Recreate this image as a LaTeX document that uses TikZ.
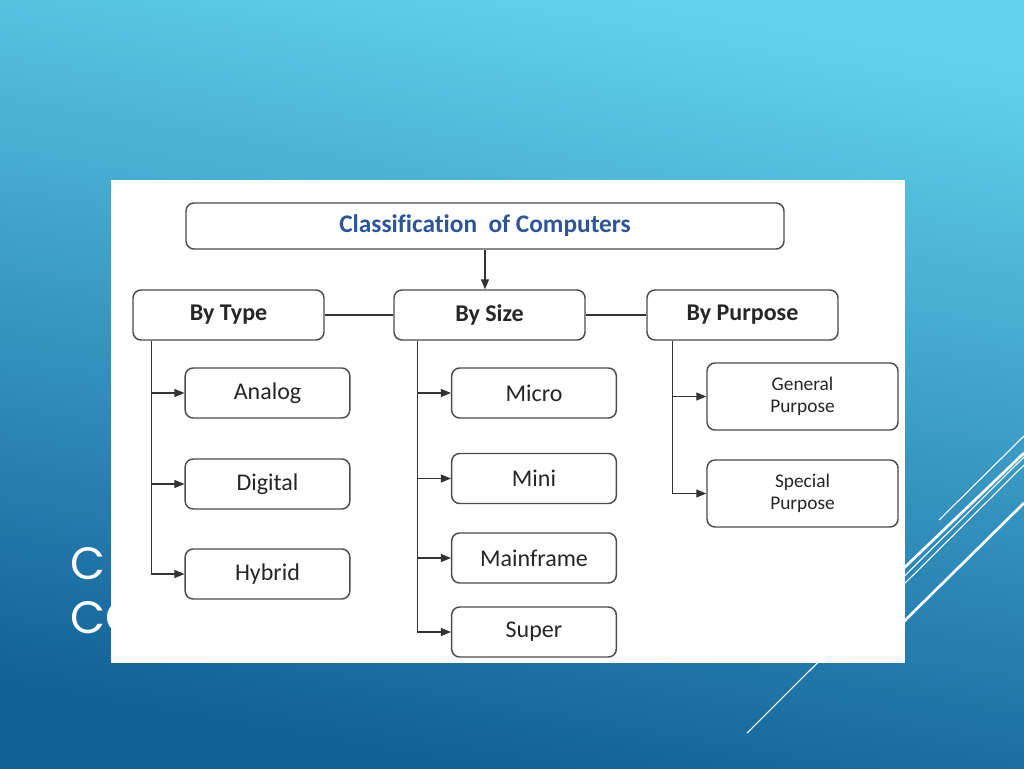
\documentclass[tikz,border=0pt]{standalone}
\usepackage{fontspec}
\setmainfont{Carlito}[Ligatures=NoCommon]
\newfontfamily\slidefont{Poppins}
\usetikzlibrary{arrows.meta}

\definecolor{bgtop}{RGB}{98,210,238}
\definecolor{bgmid}{RGB}{52,156,206}
\definecolor{bgbot}{RGB}{16,94,150}
\definecolor{titleblue}{RGB}{47,85,151}

\begin{document}
\begin{tikzpicture}[x=0.75pt, y=-0.75pt,
    box/.style={draw=black!70, line width=1.1pt, rounded corners=6pt, fill=white,
        inner sep=0pt, text=black!85, font=\fontsize{18}{21}\selectfont},
    headbox/.style={box, minimum width=143.25pt, minimum height=37.5pt,
        font=\fontsize{18}{21}\selectfont\bfseries},
    leafbox/.style={box, minimum width=123.5pt, minimum height=37.5pt},
    widebox/.style={box, minimum width=143.25pt, minimum height=50.25pt, align=center,
        font=\fontsize{14.5}{17}\selectfont},
    link/.style={draw=black!80, line width=0.9pt},
    >={Triangle[length=7.5pt,width=6pt]}]
        \useasboundingbox (0,0) rectangle (1024,768);

        % Slide background
        \shade[top color=bgtop, middle color=bgmid, bottom color=bgbot, shading angle=-10] (0,0) rectangle (1024,768);

        % Decorative stripes
        \draw[white, line width=0.8pt] (939,520) -- (1024,436);
        \draw[white, line width=0.8pt] (747,733) -- (1024,457);
        \draw[white, line width=2pt] (880,591) -- (1024,453);
        \draw[white, line width=0.8pt] (880,608) -- (1024,465);
        \draw[white, line width=2pt] (880,645) -- (1024,503);

        % Slide heading (mostly hidden by the panel)
        \node[anchor=base west, text=white, font=\slidefont\fontsize{34}{40}\selectfont, inner sep=0pt] (headone) at (70,579) {C};
        \node[anchor=base west, text=white, font=\slidefont\fontsize{34}{40}\selectfont, inner sep=0pt] (headtwo) at (70,633) {CO};

        % White panel
        \fill[white] (111,180) rectangle (905,663);

        % Top box
        \node[box, minimum width=448.5pt, minimum height=34.5pt, text=titleblue,
            font=\fontsize{19}{22}\selectfont\bfseries] (root) at (485,226) {Classification\ \ of Computers};

        % Second level
        \node[headbox] (type) at (228.5,315) {By Type};
        \node[headbox] (size) at (489.5,315) {By Size};
        \node[headbox] (purpose) at (742.5,315) {By Purpose};

        % By type
        \node[leafbox] (analog) at (267.5,393) {Analog};
        \node[leafbox] (digital) at (267.5,484) {Digital};
        \node[leafbox] (hybrid) at (267.5,574) {Hybrid};

        % By size
        \node[leafbox] (micro) at (534,393) {Micro};
        \node[leafbox] (mini) at (534,478.5) {Mini};
        \node[leafbox] (mainframe) at (534,558) {Mainframe};
        \node[leafbox] (super) at (534,632) {Super};

        % By purpose
        \node[widebox] (general) at (802.5,396.5) {General\\Purpose};
        \node[widebox] (special) at (802.5,493.5) {Special\\Purpose};

        % Trunks
        \coordinate (typetrunk) at ([xshift=14.25pt]type.south west);
        \coordinate (sizetrunk) at ([xshift=18pt]size.south west);
        \coordinate (purposetrunk) at ([xshift=19.5pt]purpose.south west);

        % Connectors
        \draw[link, ->] (root.south) -- (root.south |- size.north);
        \draw[link] (type.east) -- (size.west);
        \draw[link] (size.east) -- (purpose.west);

        \draw[link, ->] (typetrunk) |- (analog.west);
        \draw[link, ->] (typetrunk) |- (digital.west);
        \draw[link, ->] (typetrunk) |- (hybrid.west);

        \draw[link, ->] (sizetrunk) |- (micro.west);
        \draw[link, ->] (sizetrunk) |- (mini.west);
        \draw[link, ->] (sizetrunk) |- (mainframe.west);
        \draw[link, ->] (sizetrunk) |- (super.west);

        \draw[link, ->] (purposetrunk) |- (general.west);
        \draw[link, ->] (purposetrunk) |- (special.west);

    \end{tikzpicture}
\end{document}
